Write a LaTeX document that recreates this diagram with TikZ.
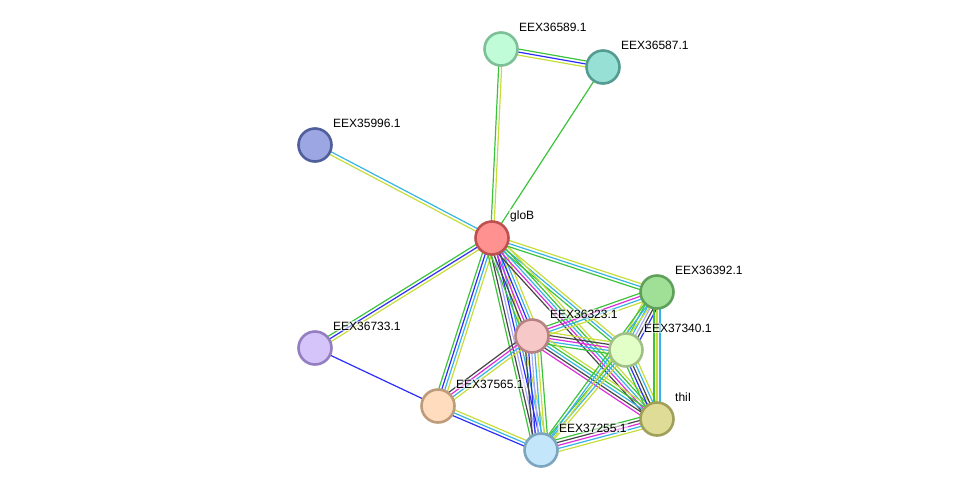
\documentclass[tikz,border=0pt]{standalone}
\usepackage{fontspec}
\setmainfont{Liberation Sans}
\usetikzlibrary{calc}
\pgfdeclarelayer{background}
\pgfsetlayers{background,main}
\definecolor{ty}{RGB}{199,221,60}
\definecolor{cy}{RGB}{55,180,228}
\definecolor{bl}{RGB}{45,45,250}
\definecolor{gr}{RGB}{60,195,60}
\definecolor{mg}{RGB}{220,45,220}
\definecolor{bk}{RGB}{70,70,70}
\definecolor{hp}{RGB}{170,170,250}
\tikzset{
  prot/.style={circle, minimum size=33pt, inner sep=0pt, line width=2.6pt},
  lbl/.style={anchor=west, inner sep=1pt, font=\fontsize{12}{14}\selectfont, fill=white, fill opacity=0.55, text opacity=1},
  edgeline/.style={line width=1.2pt}
}
\newcommand\sedge[3]{%
  \def\ecount{0}%
  \foreach \cc in {#3}{\pgfmathtruncatemacro\tmpc{\ecount+1}\global\let\ecount\tmpc}%
  \foreach \cc [count=\ii] in {#3}{%
    \pgfmathsetmacro\oo{(\ii-(\ecount+1)/2)*3.0}%
    \draw[edgeline,\cc] let \p1=($(#2.center)-(#1.center)$), \n1={atan2(\y1,\x1)+90} in
      ([shift={(\n1:\oo pt)}]#1.center) -- ([shift={(\n1:\oo pt)}]#2.center);
  }}
\newcommand\prot[6]{%
  \definecolor{f#1}{RGB}{#4}\definecolor{d#1}{RGB}{#5}%
  \node[prot, fill=f#1, draw=d#1] (#1) at (#2,#3) {};
  \node[lbl] (l#1) at ([shift={(17,-22)}]#1.center) {#6};
}
\begin{document}
\begin{tikzpicture}[x=1pt,y=-1pt]
\useasboundingbox (0,0) rectangle (976,496);
\prot{a}{501}{49}{192,252,215}{125,192,152}{EEX36589.1}
\prot{b}{603}{67}{150,224,214}{84,156,146}{EEX36587.1}
\prot{c}{315}{145}{156,166,226}{80,94,156}{EEX35996.1}
\prot{g}{492}{238}{255,145,145}{190,80,80}{gloB}
\prot{d}{657}{292}{160,224,150}{95,160,90}{EEX36392.1}
\prot{e}{532}{336}{246,200,200}{182,130,130}{EEX36323.1}
\prot{f}{626}{350}{226,255,200}{160,192,136}{EEX37340.1}
\prot{h}{315}{348}{212,196,250}{146,126,192}{EEX36733.1}
\prot{i}{438}{406}{255,220,190}{190,155,122}{EEX37565.1}
\prot{t}{657}{419}{222,220,150}{160,160,90}{thiI}
\prot{k}{541}{450}{195,230,250}{125,165,192}{EEX37255.1}
\begin{pgfonlayer}{background}
\sedge{a}{b}{ty,bl,gr}
\sedge{a}{g}{gr,ty}
\sedge{b}{g}{gr}
\sedge{c}{g}{ty,cy}
\sedge{h}{g}{ty,bl,gr}
\sedge{h}{i}{bl}
\sedge{g}{i}{gr,bl,cy,ty}
\sedge{g}{k}{gr,bk,hp,bl,cy,ty}
\sedge{g}{e}{gr,bk,mg,bl,cy,ty}
\sedge{g}{f}{gr,cy,ty}
\sedge{g}{t}{bk,mg,cy,gr,ty}
\sedge{g}{d}{gr,cy,ty}
\sedge{e}{d}{ty,cy,mg,gr}
\sedge{e}{f}{gr,cy,mg,bk,ty}
\sedge{e}{t}{mg,bk,cy,gr,ty}
\sedge{e}{i}{bk,mg,cy,ty}
\sedge{e}{k}{bk,bl,hp,cy,ty,gr}
\sedge{f}{d}{bl,bk,hp,cy,gr,ty}
\sedge{f}{t}{gr,bl,bk,cy,ty}
\sedge{f}{k}{gr,cy,ty}
\sedge{d}{t}{gr,ty,cy}
\sedge{d}{k}{gr,cy,ty}
\sedge{i}{k}{bl,cy,ty}
\sedge{k}{t}{ty,cy,mg,bk,gr}
\end{pgfonlayer}
\end{tikzpicture}
\end{document}
